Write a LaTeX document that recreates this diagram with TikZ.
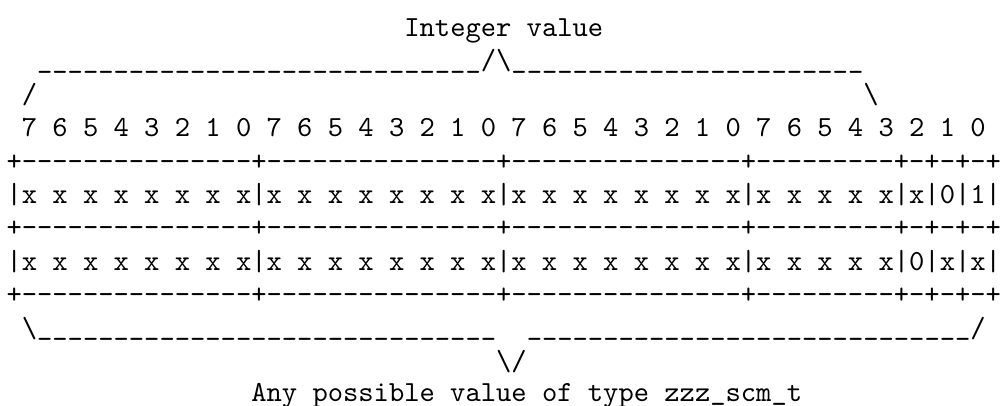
\documentclass[tikz,border=0pt]{standalone}
\usepackage{fontspec}
\setmonofont{lmmono10-regular.otf}
\ExplSyntaxOn
\cs_new:Npn \asciirun #1#2 { \prg_replicate:nn {#1} {#2} }
\ExplSyntaxOff
\newcommand\bs{\textbackslash}
% underscore sitting slightly higher, close to the baseline
\newcommand\us{\raisebox{1.5pt}{\_}}
\tikzset{
  ascii/.style={anchor=base west, inner sep=0pt, outer sep=0pt,
    font=\ttfamily\fontsize{29.14pt}{33.4pt}\selectfont, text=black},
}
\begin{document}
\begin{tikzpicture}
  \fill[white] (0pt,0pt) rectangle (1003pt,405pt);
  \useasboundingbox (0pt,0pt) rectangle (1003pt,405pt);
  % one unit = one character cell (column, line)
  \begin{scope}[shift={(6.55pt,368.5pt)}, x=15.3pt, y=-33.4pt]
    % upper brace
    \node[ascii] (title) at (26,0) {Integer value};
    \node[ascii] (topleft) at (2,1) {\asciirun{29}{\us}};
    \node[ascii] (topapex) at (31,1) {/\bs};
    \node[ascii] (topright) at (33,1) {\asciirun{23}{\us}};
    \node[ascii] (topleftend) at (1,2) {/};
    \node[ascii] (toprightend) at (56,2) {\bs};
    % bit numbers
    \node[ascii] (bits) at (1,3) {7 6 5 4 3 2 1 0 7 6 5 4 3 2 1 0 7 6 5 4 3 2 1 0 7 6 5 4 3 2 1 0};
    % table
    \node[ascii] (rule1) at (0,4) {+\asciirun{15}{-}+\asciirun{15}{-}+\asciirun{15}{-}+\asciirun{9}{-}+-+-+-+};
    \node[ascii] (row1) at (0,5) {|x x x x x x x x|x x x x x x x x|x x x x x x x x|x x x x x|x|0|1|};
    \node[ascii] (rule2) at (0,6) {+\asciirun{15}{-}+\asciirun{15}{-}+\asciirun{15}{-}+\asciirun{9}{-}+-+-+-+};
    \node[ascii] (row2) at (0,7) {|x x x x x x x x|x x x x x x x x|x x x x x x x x|x x x x x|0|x|x|};
    \node[ascii] (rule3) at (0,8) {+\asciirun{15}{-}+\asciirun{15}{-}+\asciirun{15}{-}+\asciirun{9}{-}+-+-+-+};
    % lower brace
    \node[ascii] (botleft) at (1,9) {\bs\asciirun{30}{\us}};
    \node[ascii] (botright) at (34,9) {\asciirun{29}{\us}/};
    \node[ascii] (botapex) at (32,10) {\bs/};
    \node[ascii] (caption) at (16,10.94) {Any possible value of type zzz\us scm\us t};
  \end{scope}
\end{tikzpicture}
\end{document}
